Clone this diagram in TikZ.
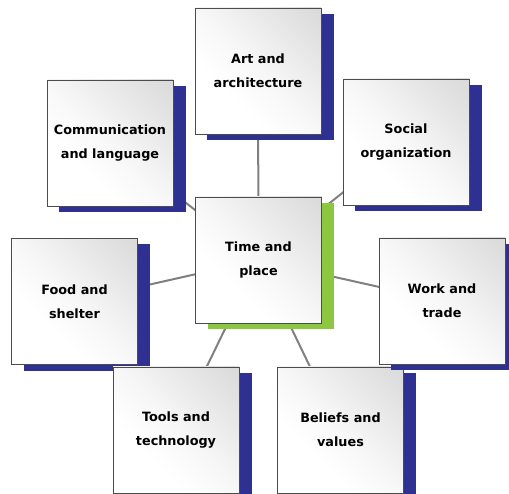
\documentclass[tikz,border=0pt]{standalone}
\usepackage{fontspec}
\setmainfont{DejaVu Sans}
\definecolor{shblue}{RGB}{46,49,146}
\definecolor{shgreen}{RGB}{141,198,63}
\definecolor{linkgray}{RGB}{128,128,128}
\pgfdeclarehorizontalshading{boxshade}{100bp}{color(0bp)=(white); color(35bp)=(white); color(50bp)=(black!3); color(65bp)=(black!8); color(80bp)=(black!13); color(100bp)=(black!18)}
\tikzset{
  box/.style={draw=black!70, line width=0.8pt, minimum width=126pt, minimum height=126pt,
    inner sep=0pt, align=center, font=\fontsize{12.8}{24}\selectfont\bfseries,
    shading=boxshade, shading angle=45},
  ghost/.style={minimum width=126pt, minimum height=126pt, inner sep=0pt},
  link/.style={draw=linkgray, line width=2pt},
}
\newcommand{\shadowbox}[2]{\fill[#2] ([shift={(12.5pt,-6pt)}]#1.south west) rectangle ([shift={(12.5pt,-6pt)}]#1.north east);}
\begin{document}
\begin{tikzpicture}[x=1pt,y=1pt]
\useasboundingbox (0,0) rectangle (509,493);
\clip (0,0) rectangle (509,493);
% centers
\coordinate (cArt) at (258,422);
\coordinate (cTime) at (258.5,233);
\coordinate (cComm) at (110,350);
\coordinate (cSoc) at (406,351);
\coordinate (cFood) at (74.5,191.5);
\coordinate (cWork) at (442,192);
\coordinate (cTools) at (176,63);
\coordinate (cBel) at (340.5,63);
% connectors
\foreach \c in {cArt,cComm,cSoc,cFood,cWork,cTools,cBel}
  \draw[link] (cTime) -- (\c);
% boxes
\path node[ghost] (belS) at (cBel) {};
\shadowbox{belS}{shblue}
\node[box] (bel) at (cBel) {Beliefs and\\values};
\path node[ghost] (foodS) at (cFood) {};
\shadowbox{foodS}{shblue}
\node[box] (food) at (cFood) {Food and\\shelter};
\path node[ghost] (toolsS) at (cTools) {};
\shadowbox{toolsS}{shblue}
\node[box] (tools) at (cTools) {Tools and\\technology};
\path node[ghost] (workS) at (cWork) {};
\shadowbox{workS}{shblue}
\node[box] (work) at (cWork) {Work and\\trade};
\path node[ghost] (artS) at (cArt) {};
\shadowbox{artS}{shblue}
\node[box] (art) at (cArt) {Art and\\architecture};
\path node[ghost] (commS) at (cComm) {};
\shadowbox{commS}{shblue}
\node[box] (comm) at (cComm) {Communication\\and language};
\path node[ghost] (socS) at (cSoc) {};
\shadowbox{socS}{shblue}
\node[box] (soc) at (cSoc) {Social\\organization};
\path node[ghost] (timeS) at (cTime) {};
\shadowbox{timeS}{shgreen}
\node[box] (time) at (cTime) {Time and\\place};
\end{tikzpicture}
\end{document}
